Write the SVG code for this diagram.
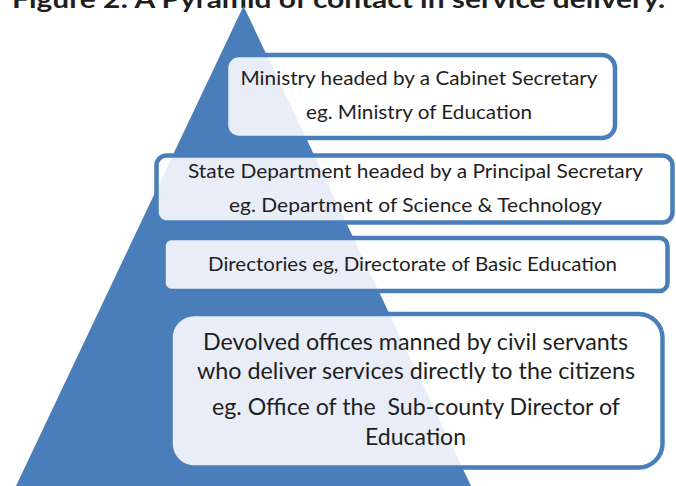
<svg xmlns="http://www.w3.org/2000/svg" width="676" height="486" viewBox="0 0 676 486">
<style>
.bg{fill:#ffffff}
.lt{fill:#E9EDF7}
.bd{fill:none;stroke:#4A7EBB}
.t{font-family:Lato,"Open Sans","Liberation Sans",sans-serif;fill:#1e1e1e;text-anchor:middle}
.s{font-size:19px}
.b{font-size:23px}
.title{font-family:Lato,"Open Sans","Liberation Sans",sans-serif;font-weight:bold;font-size:25px;fill:#1e1e1e}
</style>
<defs>
<clipPath id="tri"><polygon points="243.5,6 471,486 16,486"/></clipPath>
</defs>
<rect width="676" height="486" fill="#ffffff"/>
<text class="title" x="12" y="8" textLength="653" lengthAdjust="spacingAndGlyphs">Figure 2: A Pyramid of contact in service delivery.</text>
<polygon id="pyramid" points="243.5,6 471,486 16,486" fill="#4A7EBB"/>
<g id="ministry">
<rect class="bg" x="226" y="55" width="389" height="83" rx="13"/>
<rect class="lt" x="226" y="55" width="389" height="83" rx="13" clip-path="url(#tri)"/>
<rect class="bd" x="226" y="55" width="389" height="83" rx="13" stroke-width="4.5"/>
<text class="t s" x="419" y="85" textLength="357" lengthAdjust="spacingAndGlyphs">Ministry headed by a Cabinet Secretary</text>
<text class="t s" x="419" y="119" textLength="226" lengthAdjust="spacingAndGlyphs">eg. Ministry of Education</text>
</g>
<g id="state-department">
<rect class="bg" x="156.5" y="155.5" width="516" height="67" rx="10"/>
<rect class="lt" x="156.5" y="155.5" width="516" height="67" rx="10" clip-path="url(#tri)"/>
<rect class="bd" x="156.5" y="155.5" width="516" height="67" rx="10" stroke-width="4.5"/>
<text class="t s" x="415.5" y="178" textLength="455" lengthAdjust="spacingAndGlyphs">State Department headed by a Principal Secretary</text>
<text class="t s" x="415.5" y="212" textLength="373" lengthAdjust="spacingAndGlyphs">eg. Department of Science &amp; Technology</text>
</g>
<g id="directories">
<rect class="bg" x="163.5" y="238" width="504" height="53" rx="8"/>
<rect class="lt" x="163.5" y="238" width="504" height="53" rx="8" clip-path="url(#tri)"/>
<rect class="bd" x="163.5" y="238" width="504" height="53" rx="8" stroke-width="4.5"/>
<text class="t s" x="412.5" y="271" textLength="409" lengthAdjust="spacingAndGlyphs">Directories eg, Directorate of Basic Education</text>
</g>
<g id="devolved-offices">
<rect class="bg" x="170.5" y="314" width="492" height="153.5" rx="24"/>
<rect class="lt" x="170.5" y="314" width="492" height="153.5" rx="24" clip-path="url(#tri)"/>
<rect class="bd" x="170.5" y="314" width="492" height="153.5" rx="24" stroke-width="4.5"/>
<text class="t b" x="415.5" y="350" textLength="425" lengthAdjust="spacingAndGlyphs">Devolved offices manned by civil servants</text>
<text class="t b" x="416" y="378.5" textLength="438" lengthAdjust="spacingAndGlyphs">who deliver services directly to the citizens</text>
<text class="t b" x="416" y="415" textLength="408" lengthAdjust="spacingAndGlyphs" xml:space="preserve">eg. Office of the  Sub-county Director of</text>
<text class="t b" x="415.5" y="445" textLength="101" lengthAdjust="spacingAndGlyphs">Education</text>
</g>
</svg>
